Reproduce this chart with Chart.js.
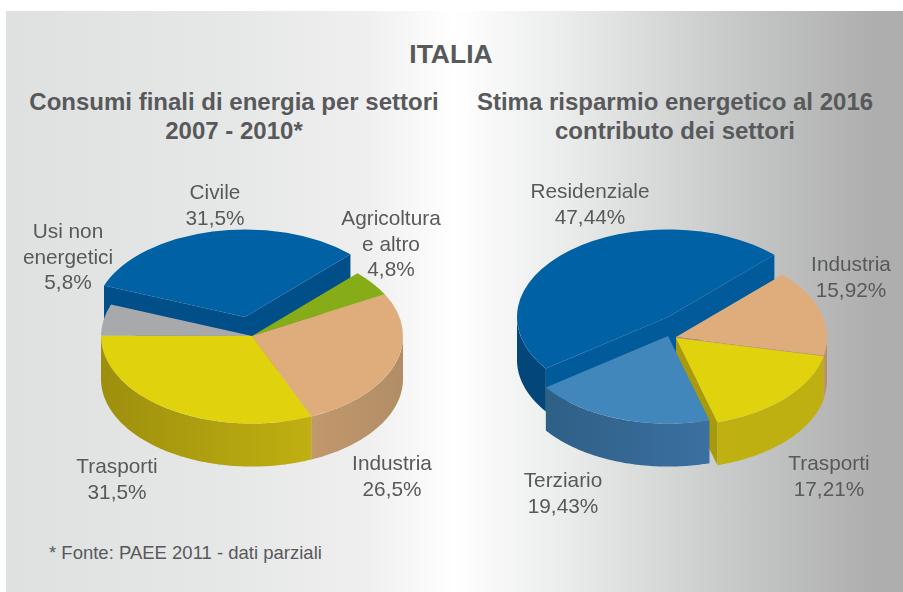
<!DOCTYPE html>
<html lang="it">
<head>
<meta charset="utf-8">
<title>Italia</title>
<style>
    html, body { margin: 0; padding: 0; background: #fff; width: 903px; height: 592px; overflow: hidden; }
    #panel {
        position: absolute; left: 6px; top: 11px; width: 897px; height: 581px;
        background: linear-gradient(to right, #dfe1e0 0%, #e6e7e7 25%, #efefef 40%, #ffffff 50%, #ebecec 62%, #dcdedd 70%, #c4c5c5 83%, #aeaeae 97%, #aeaeae 100%);
    }
    canvas { position: absolute; }
    .t { position: absolute; font-family: "Liberation Sans", Arial, sans-serif; color: #58595b; text-align: center; white-space: pre; transform: translate(-50%, 0); }
    .title { font-weight: bold; }
    .lbl { font-size: 20.8px; line-height: 25.5px; }
</style>
</head>
<body>
<div id="panel"></div>
<canvas id="pieLeft" width="360" height="360" style="left:72px;top:156px"></canvas>
<canvas id="pieRight" width="360" height="360" style="left:496px;top:157px"></canvas>
<div id="texts"></div>

<script src="https://cdn.jsdelivr.net/npm/chart.js@4"></script>
<script>
var mainTitle = 'ITALIA';
var footNote = '* Fonte: PAEE 2011 - dati parziali';

var leftTitle = 'Consumi finali di energia per settori\n2007 - 2010*';
var leftCategories = ['Civile', 'Agricoltura\ne altro', 'Industria', 'Trasporti', 'Usi non\nenergetici'];
var leftValues = [31.5, 4.8, 26.5, 31.5, 5.8];

var rightTitle = 'Stima risparmio energetico al 2016\ncontributo dei settori';
var rightCategories = ['Residenziale', 'Industria', 'Trasporti', 'Terziario'];
var rightValues = [47.44, 15.92, 17.21, 19.43];

// look of the two pies, same order as the categories
var FLAT = 0.58;
var DEPTH = 43;
var leftStyle = {
    rotation: -69,
    order: [0, 1, 4, 2, 3],
    top: ['#0161a5', '#86ad18', '#dfad7c', '#e0d30d', '#a8a9ab'],
    wall: [['#01528c', '#015a98'], ['#6f9012', '#6f9012'], ['#c2986c', '#b18d66'], ['#9d8f0d', '#c0b012'], ['#88898b', '#88898b']],
    face: ['#014f88', '#6f9012', '#c2986c', '#9d8f0d', '#88898b'],
    shift: [[-7, -19], [0, 0], [0, 0], [0, 0], [0, 0]],
    labelX: [215, 391, 392, 117, 68],
    labelY: [179, 205, 450, 453, 218]
};
var rightStyle = {
    rotation: 234,
    order: [0, 1, 2, 3],
    top: ['#0161a5', '#dfad7c', '#e0d30d', '#4287bb'],
    wall: [['#03467a', '#03467a'], ['#c2986c', '#b18d66'], ['#c0b012', '#bdb010'], ['#2e5f86', '#3b70a0']],
    face: ['#015a9a', '#c2986c', '#a89a0a', '#2e5f86'],
    shift: [[-8, -20], [0, 0], [0, 1], [-8, -1]],
    labelX: [590, 851, 829, 563],
    labelY: [178, 251, 450, 467]
};

function addText(text, x, y, cls, size) {
    var el = document.createElement('div');
    el.className = 't ' + cls;
    el.style.left = x + 'px';
    el.style.top = y + 'px';
    if (size) el.style.fontSize = size + 'px';
    el.textContent = text;
    document.getElementById('texts').appendChild(el);
    return el;
}

function fillPoly(ctx, pts, fill) {
    ctx.beginPath();
    pts.forEach(function (p, i) {
        if (i === 0) ctx.moveTo(p[0], p[1]);
        else ctx.lineTo(p[0], p[1]);
    });
    ctx.closePath();
    ctx.fillStyle = fill;
    ctx.fill();
}

// side of one slice: the cut faces that look at the viewer and the rim of the front half
function drawWalls(ctx, arc, style, i, ox, oy) {
    var r = arc.outerRadius;
    var a0 = arc.startAngle;
    var a1 = arc.endAngle;

    function edge(a) { return [ox + Math.cos(a) * r, oy + Math.sin(a) * r * FLAT]; }
    function cutFace(a) {
        var e = edge(a);
        fillPoly(ctx, [[ox, oy], e, [e[0], e[1] + DEPTH], [ox, oy + DEPTH]], style.face[i]);
    }

    if (Math.sin(a0 - Math.PI / 2) > 0) cutFace(a0);
    if (Math.sin(a1 + Math.PI / 2) > 0) cutFace(a1);

    var front = [];
    var steps = 120;
    for (var s = 0; s <= steps; s++) {
        var a = a0 + (a1 - a0) * s / steps;
        if (Math.sin(a) >= 0) front.push(edge(a));
    }
    if (front.length < 2) return;

    var xs = front.map(function (p) { return p[0]; });
    var grad = ctx.createLinearGradient(Math.min.apply(null, xs), 0, Math.max.apply(null, xs), 0);
    grad.addColorStop(0, style.wall[i][0]);
    grad.addColorStop(1, style.wall[i][1]);
    var back = front.slice().reverse().map(function (p) { return [p[0], p[1] + DEPTH]; });
    fillPoly(ctx, front.concat(back), grad);
}

var pie3d = {
    id: 'pie3d',
    beforeDatasetDraw: function (chart) {
        var ctx = chart.ctx;
        var style = chart.options.plugins.pie3d.look;
        var arcs = chart.getDatasetMeta(0).data;

        style.order.forEach(function (i) {
            var arc = arcs[i];
            var ox = arc.x + style.shift[i][0];
            var oy = arc.y + style.shift[i][1];

            drawWalls(ctx, arc, style, i, ox, oy);

            ctx.save();
            ctx.translate(ox, oy);
            ctx.scale(1, FLAT);
            ctx.translate(-arc.x, -arc.y);
            arc.draw(ctx);
            ctx.restore();
        });
        return false;
    }
};

function makePie(id, categories, values, style) {
    return new Chart(document.getElementById(id), {
        type: 'pie',
        data: {
            labels: categories,
            datasets: [{ data: values, backgroundColor: style.top, borderWidth: 0 }]
        },
        options: {
            responsive: false,
            animation: false,
            events: [],
            radius: 151,
            rotation: style.rotation,
            layout: { padding: 0 },
            plugins: {
                legend: { display: false },
                tooltip: { enabled: false },
                title: { display: false },
                pie3d: { look: style }
            }
        },
        plugins: [pie3d]
    });
}

function addLabels(categories, values, style) {
    categories.forEach(function (name, i) {
        var txt = name + '\n' + String(values[i]).replace('.', ',') + '%';
        addText(txt, style.labelX[i], style.labelY[i], 'lbl');
    });
}

addText(mainTitle, 451, 39, 'title', 26.5);
var t1 = addText(leftTitle, 234, 87, 'title', 24);
var t2 = addText(rightTitle, 675, 87, 'title', 24);
t1.style.lineHeight = t2.style.lineHeight = '29px';
var fn = addText(footNote, 49, 542, '', 18.5);
fn.style.transform = 'none';

addLabels(leftCategories, leftValues, leftStyle);
addLabels(rightCategories, rightValues, rightStyle);

makePie('pieLeft', leftCategories, leftValues, leftStyle);
makePie('pieRight', rightCategories, rightValues, rightStyle);
</script>
</body>
</html>
